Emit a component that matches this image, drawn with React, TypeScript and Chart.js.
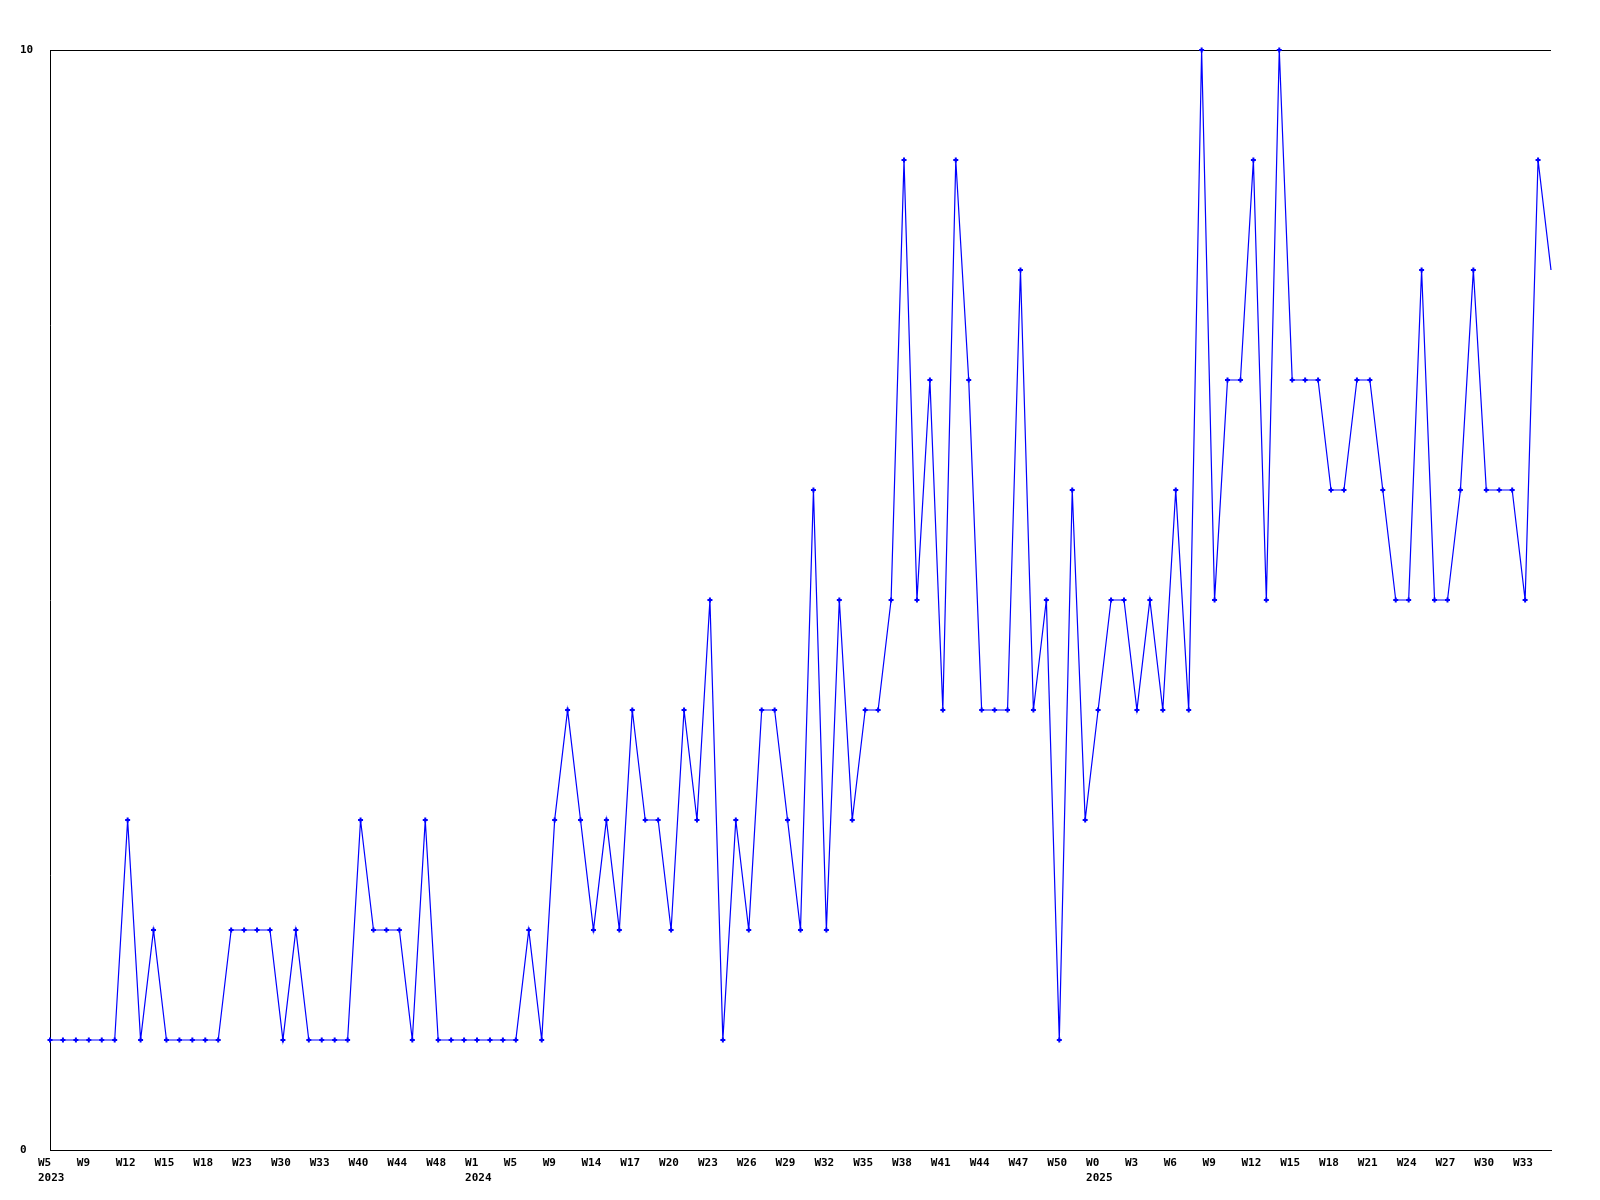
import React, { useEffect, useRef } from "react";
import { Chart, registerables } from "chart.js";

Chart.register(...registerables);

// Week labels, one per point (only every 3rd is printed)
const weeks: string[] = [
  "W5", "W6", "W8", "W9", "W10", "W11", "W12", "W13", "W14", "W15", "W16", "W17",
  "W18", "W20", "W21", "W23", "W25", "W28", "W30", "W31", "W32", "W33", "W35", "W38",
  "W40", "W41", "W43", "W44", "W45", "W47", "W48", "W50", "W51",
  "W1", "W2", "W3", "W5", "W6", "W7", "W9", "W10", "W12", "W14", "W15", "W16",
  "W17", "W18", "W19", "W20", "W21", "W22", "W23", "W24", "W25", "W26", "W27", "W28",
  "W29", "W30", "W31", "W32", "W33", "W34", "W35", "W36", "W37", "W38", "W39", "W40",
  "W41", "W42", "W43", "W44", "W45", "W46", "W47", "W48", "W49", "W50", "W51", "W52",
  "W0", "W1", "W2", "W3", "W4", "W5", "W6", "W7", "W8", "W9", "W10", "W11",
  "W12", "W13", "W14", "W15", "W16", "W17", "W18", "W19", "W20", "W21", "W22", "W23",
  "W24", "W25", "W26", "W27", "W28", "W29", "W30", "W31", "W32", "W33", "W34", "W35",
];

// Year shown under the first week of each year
const years: string[] = [
  "2023", "", "", "", "", "", "", "", "", "", "", "",
  "", "", "", "", "", "", "", "", "", "", "", "",
  "", "", "", "", "", "", "", "", "",
  "2024", "", "", "", "", "", "", "", "", "", "", "",
  "", "", "", "", "", "", "", "", "", "", "", "",
  "", "", "", "", "", "", "", "", "", "", "", "",
  "", "", "", "", "", "", "", "", "", "", "", "",
  "2025", "", "", "", "", "", "", "", "", "", "", "",
  "", "", "", "", "", "", "", "", "", "", "", "",
  "", "", "", "", "", "", "", "", "", "", "", "",
];

const values: number[] = [
  1, 1, 1, 1, 1, 1, 3, 1, 2, 1, 1, 1,
  1, 1, 2, 2, 2, 2, 1, 2, 1, 1, 1, 1,
  3, 2, 2, 2, 1, 3, 1, 1, 1,
  1, 1, 1, 1, 2, 1, 3, 4, 3, 2, 3, 2,
  4, 3, 3, 2, 4, 3, 5, 1, 3, 2, 4, 4,
  3, 2, 6, 2, 5, 3, 4, 4, 5, 9, 5, 7,
  4, 9, 7, 4, 4, 4, 8, 4, 5, 1, 6, 3,
  4, 5, 5, 4, 5, 4, 6, 4, 10, 5, 7, 7,
  9, 5, 10, 7, 7, 7, 6, 6, 7, 7, 6, 5,
  5, 8, 5, 5, 6, 8, 6, 6, 6, 5, 9, 8,
];

const yTicks: number[] = [0, 10];
const labelEvery = 3;

const FONT = { family: "'DejaVu Sans Mono', monospace", size: 11, weight: "bold" as const, lineHeight: 1.36 };

export default function App() {
  const ref = useRef<HTMLCanvasElement | null>(null);

  useEffect(() => {
    if (!ref.current) return;
    const chart = new Chart(ref.current, {
      type: "line",
      data: {
        labels: weeks,
        datasets: [
          {
            data: values,
            borderColor: "#0000ff",
            backgroundColor: "#0000ff",
            borderWidth: 1.2,
            tension: 0,
            fill: false,
            pointStyle: "cross",
            pointRadius: (c: any) => (c.dataIndex === values.length - 1 ? 0 : 2.5),
            pointBorderWidth: 2,
            pointBorderColor: "#0000ff",
            pointHoverRadius: 2.5,
            clip: false as any,
          },
        ],
      },
      options: {
        responsive: false,
        animation: false,
        devicePixelRatio: 1,
        events: [],
        layout: { padding: { left: 20, top: 50, right: 49, bottom: 0 } },
        plugins: {
          legend: { display: false },
          tooltip: { enabled: false },
          title: { display: false },
        },
        scales: {
          x: {
            type: "category",
            offset: false,
            grid: { display: false, drawTicks: false },
            border: { display: true, color: "#000000", width: 1 },
            ticks: {
              autoSkip: false,
              maxRotation: 0,
              minRotation: 0,
              align: "start",
              labelOffset: -12,
              padding: 6,
              color: "#000000",
              font: FONT,
              callback: (_v: any, i: number) => {
                if (i % labelEvery !== 0) return "";
                return years[i] ? [weeks[i], years[i]] : weeks[i];
              },
            },
            afterFit: (s: any) => {
              s.height = 50;
              s.paddingLeft = 0;
              s.paddingRight = 0;
            },
          },
          y: {
            min: 0,
            max: 10,
            afterBuildTicks: (s: any) => {
              s.ticks = yTicks.map((v) => ({ value: v }));
            },
            grid: { display: true, color: "#000000", lineWidth: 1, drawTicks: false },
            border: { display: true, color: "#000000", width: 1 },
            ticks: {
              crossAlign: "far",
              padding: 0,
              color: "#000000",
              font: FONT,
              callback: (v: any) => String(v),
            },
            afterFit: (s: any) => {
              s.width = 30;
              s.paddingTop = 0;
              s.paddingBottom = 0;
            },
          },
        },
      },
    });
    return () => chart.destroy();
  }, []);

  return (
    <div style={{ position: "fixed", left: 0, top: 0, width: 1600, height: 1200, background: "#ffffff" }}>
      <canvas ref={ref} width={1600} height={1200} style={{ width: 1600, height: 1200, display: "block" }} />
    </div>
  );
}
